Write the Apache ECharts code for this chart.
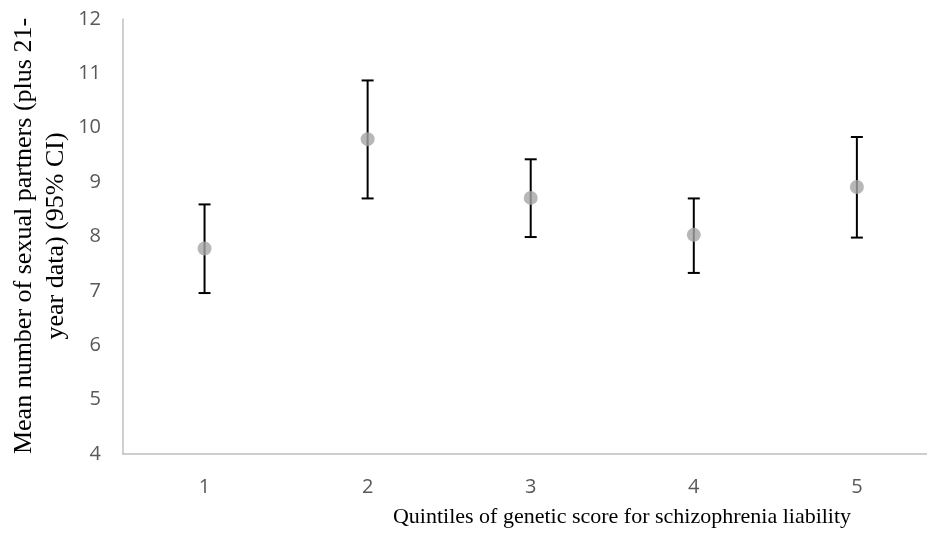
<!DOCTYPE html>
<html>
<head>
<meta charset="utf-8">
<title>Sexual partners by genetic score quintile</title>
<script src="https://cdn.jsdelivr.net/npm/echarts@6/dist/echarts.min.js"></script>
<style>
  html, body { margin: 0; padding: 0; background: #fff; }
  #chart { width: 927px; height: 540px; }
</style>
</head>
<body>
<div id="chart"></div>
<script>
// Quintile categories and estimates with 95% confidence limits
var quintiles = ['1', '2', '3', '4', '5'];
var quintilePos = [1, 2, 3, 4, 5];
var meanPartners = [7.78, 9.79, 8.71, 8.03, 8.91];
var ciLower = [6.96, 8.70, 7.99, 7.33, 7.98];
var ciUpper = [8.59, 10.87, 9.42, 8.70, 9.83];
var yTicks = [4, 5, 6, 7, 8, 9, 10, 11, 12];

var xTitle = 'Quintiles of genetic score for schizophrenia liability';
var yTitleLines = ['Mean number of sexual partners (plus 21-', 'year data) (95% CI)'];

var chart = echarts.init(document.getElementById('chart'), null, { renderer: 'canvas' });

var ciData = quintilePos.map(function (p, i) { return [p, ciLower[i], ciUpper[i]]; });
var meanData = quintilePos.map(function (p, i) { return [p, meanPartners[i]]; });

var option = {
  animation: false,
  backgroundColor: '#ffffff',
  grid: { left: 123, top: 19, bottom: 86, right: 0 },
  // quintile bands are half a unit wide each side; the last band is cut off at the right edge
  xAxis: {
    type: 'value',
    min: 0.5,
    max: 5.43,
    axisLine: { show: true, lineStyle: { color: '#BFBFBF', width: 1.5 } },
    axisTick: { show: false },
    axisLabel: {
      color: '#595959', fontSize: 20, fontFamily: 'Open Sans', margin: 23,
      customValues: quintilePos,
      formatter: function (v) { return quintiles[quintilePos.indexOf(v)]; }
    },
    splitLine: { show: false }
  },
  yAxis: {
    type: 'value',
    min: yTicks[0],
    max: yTicks[yTicks.length - 1],
    interval: 1,
    axisLine: { show: true, lineStyle: { color: '#BFBFBF', width: 1.5 } },
    axisTick: { show: false },
    axisLabel: { color: '#595959', fontSize: 20, fontFamily: 'Open Sans', margin: 22 },
    splitLine: { show: false }
  },
  graphic: [
    {
      type: 'text',
      x: 622,
      y: 517,
      style: {
        text: xTitle,
        fill: '#000',
        font: '22px "Liberation Serif"',
        textAlign: 'center',
        textVerticalAlign: 'middle'
      }
    },
    {
      type: 'text',
      x: 40,
      y: 236,
      rotation: Math.PI / 2,
      style: {
        text: yTitleLines.join('\n'),
        fill: '#000',
        font: '26px "Liberation Serif"',
        lineHeight: 32,
        textAlign: 'center',
        textVerticalAlign: 'middle'
      }
    }
  ],
  series: [
    {
      name: '95% CI',
      type: 'custom',
      z: 2,
      data: ciData,
      renderItem: function (params, api) {
        var x = api.value(0);
        var lo = api.coord([x, api.value(1)]);
        var hi = api.coord([x, api.value(2)]);
        var half = 6;
        var style = { stroke: '#000', lineWidth: 2 };
        return {
          type: 'group',
          children: [
            { type: 'line', shape: { x1: lo[0], y1: lo[1], x2: hi[0], y2: hi[1] }, style: style },
            { type: 'line', shape: { x1: hi[0] - half, y1: hi[1], x2: hi[0] + half, y2: hi[1] }, style: style },
            { type: 'line', shape: { x1: lo[0] - half, y1: lo[1], x2: lo[0] + half, y2: lo[1] }, style: style }
          ]
        };
      }
    },
    {
      name: 'Mean',
      type: 'scatter',
      z: 3,
      data: meanData,
      symbol: 'circle',
      symbolSize: 14,
      itemStyle: { color: '#A5A5A5' }
    }
  ]
};

chart.setOption(option);
</script>
</body>
</html>
